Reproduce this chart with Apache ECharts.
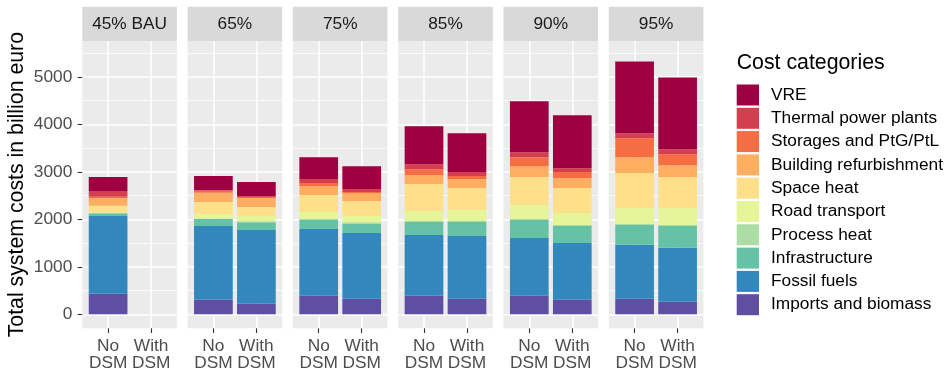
<!DOCTYPE html>
<html>
<head>
<meta charset="utf-8">
<script src="https://cdn.jsdelivr.net/npm/echarts@6/dist/echarts.min.js"></script>
<style>
  html, body { margin: 0; padding: 0; background: #fff; }
  #chart { width: 952px; height: 373px; }
</style>
</head>
<body>
<div id="chart"></div>
<script>
// Facet labels (one panel per emission-reduction target)
const scenarios = ['45% BAU', '65%', '75%', '85%', '90%', '95%'];
// Bar positions inside each panel and their tick labels
const dsmPositions = [1, 2];
const dsmLabels = ['No\nDSM', 'With\nDSM'];
// Y tick values
const majorTicks = [0, 1000, 2000, 3000, 4000, 5000];
const minorTicks = [500, 1500, 2500, 3500, 4500, 5500];

// Cost categories, bottom of the stack first
const categories = [
  'Imports and biomass', 'Fossil fuels', 'Infrastructure', 'Process heat',
  'Road transport', 'Space heat', 'Building refurbishment',
  'Storages and PtG/PtL', 'Thermal power plants', 'VRE'
];
const categoryColors = [
  '#5E4FA2', '#3288BD', '#66C2A5', '#ABDDA4', '#E6F598',
  '#FEE08B', '#FDAE61', '#F46D43', '#D53E4F', '#9E0142'
];

// Values in billion euro, per scenario: [No DSM, With DSM] (null = no run)
const importsBiomass = [[434, null], [308, 224], [392, 329], [392, 329], [392, 308], [329, 266]];
const fossilFuels    = [[1638, null], [1554, 1554], [1407, 1386], [1281, 1323], [1218, 1197], [1134, 1134]];
const infrastructure = [[56, null], [147, 161], [189, 189], [273, 294], [378, 357], [420, 462]];
const processHeat    = [[8, null], [10, 21], [21, 35], [21, 21], [21, 21], [21, 21]];
const roadTransport  = [[12, null], [95, 112], [147, 133], [210, 231], [294, 252], [336, 357]];
const spaceHeat      = [[141, null], [252, 189], [357, 315], [567, 462], [588, 525], [735, 651]];
const buildingRefurb = [[161, null], [196, 189], [189, 168], [189, 189], [231, 210], [336, 252]];
const storagesPtx    = [[28, null], [42, 21], [63, 21], [126, 63], [189, 126], [399, 231]];
const thermalPlants  = [[119, null], [14, 14], [84, 63], [105, 84], [105, 84], [105, 105]];
const vre            = [[294, null], [294, 301], [462, 483], [798, 819], [1071, 1113], [1512, 1512]];

const categoryValues = [
  importsBiomass, fossilFuels, infrastructure, processHeat, roadTransport,
  spaceHeat, buildingRefurb, storagesPtx, thermalPlants, vre
];

// Panel layout (pixels)
const FONT = '"Liberation Sans", Arial, Helvetica, sans-serif';
const panelLeft0 = 82.3, panelStep = 105.3, panelW = 94.6;
const panelTop = 41, panelBottom = 328.3, chartH = 373;
const stripTop = 6.7;
const yMin = -295, yMax = 5759;
const xMin = 0.4, xMax = 2.6;
const barWidth = 0.9 * panelW / (xMax - xMin);

const grids = [], xAxes = [], yAxes = [], series = [], graphics = [];

scenarios.forEach((name, i) => {
  const left = panelLeft0 + i * panelStep;
  grids.push({
    left: left, width: panelW, top: panelTop, bottom: chartH - panelBottom,
    show: true, backgroundColor: '#EBEBEB', borderWidth: 0
  });
  xAxes.push({
    type: 'value', gridIndex: i, min: xMin, max: xMax, position: 'bottom',
    axisLine: { show: false, onZero: false },
    axisTick: { show: true, customValues: dsmPositions, length: 4.7, lineStyle: { color: '#333333', width: 1.1 } },
    axisLabel: {
      customValues: dsmPositions, formatter: v => dsmLabels[Math.round(v) - 1],
      fontFamily: FONT, fontSize: 17.3, color: '#4D4D4D', lineHeight: 16.8, margin: 10, align: 'center'
    },
    splitLine: { show: true, lineStyle: { color: '#FFFFFF', width: 1.5 } }
  });
  // major gridlines (and, in the first panel, the labelled axis)
  yAxes.push({
    type: 'value', gridIndex: i, min: yMin, max: yMax, position: 'left',
    name: i === 0 ? 'Total system costs in billion euro' : '',
    nameLocation: 'middle', nameGap: 55,
    nameTextStyle: { fontFamily: FONT, fontSize: 21.3, color: '#000000' },
    axisLine: { show: false, onZero: false },
    axisTick: { show: i === 0, customValues: majorTicks, length: 4.7, lineStyle: { color: '#333333', width: 1.1 } },
    axisLabel: {
      show: i === 0, customValues: majorTicks, formatter: v => String(v),
      fontFamily: FONT, fontSize: 17.3, color: '#4D4D4D', margin: 10
    },
    splitLine: { show: true, lineStyle: { color: '#FFFFFF', width: 1.5 } }
  });
  // minor gridlines
  yAxes.push({
    type: 'value', gridIndex: i, min: yMin, max: yMax, position: 'left',
    axisLine: { show: false, onZero: false },
    axisTick: { show: false, customValues: minorTicks },
    axisLabel: { show: false, customValues: minorTicks },
    splitLine: { show: true, lineStyle: { color: '#FFFFFF', width: 0.75 } }
  });

  categories.forEach((cat, k) => {
    const vals = categoryValues[k][i];
    const points = [];
    dsmPositions.forEach((x, j) => {
      if (vals[j] != null) points.push([vals[j], x]);
    });
    series.push({
      type: 'bar', name: cat, stack: 'panel' + i,
      xAxisIndex: i, yAxisIndex: 2 * i,
      barWidth: barWidth,
      itemStyle: { color: categoryColors[k] },
      emphasis: { disabled: true }, silent: true,
      // value first so the cost dimension is the one that gets stacked
      encode: { x: 1, y: 0 },
      data: points
    });
  });

  // facet strip
  graphics.push({
    type: 'rect', silent: true,
    shape: { x: left, y: stripTop, width: panelW, height: panelTop - stripTop },
    style: { fill: '#D9D9D9' }
  });
  graphics.push({
    type: 'text', silent: true,
    x: left + panelW / 2, y: (stripTop + panelTop) / 2,
    style: {
      text: name, fontFamily: FONT, fontSize: 17.3, fill: '#1A1A1A',
      align: 'center', verticalAlign: 'middle'
    }
  });
});

const option = {
  animation: false,
  backgroundColor: '#FFFFFF',
  title: {
    text: 'Cost categories', left: 736.7, top: 53, padding: 0,
    textStyle: { fontFamily: FONT, fontSize: 21.3, fontWeight: 'normal', color: '#000000' }
  },
  legend: {
    orient: 'vertical', left: 736.7, top: 84.5, padding: 0,
    itemWidth: 22.3, itemHeight: 21, itemGap: 2.3,
    icon: 'rect', selectedMode: false,
    data: categories.slice().reverse(),
    textStyle: { fontFamily: FONT, fontSize: 17.3, color: '#000000', padding: [0, 0, 0, 7] }
  },
  grid: grids,
  xAxis: xAxes,
  yAxis: yAxes,
  series: series,
  graphic: graphics
};

const chart = echarts.init(document.getElementById('chart'), null, { renderer: 'canvas' });
chart.setOption(option);
</script>
</body>
</html>
